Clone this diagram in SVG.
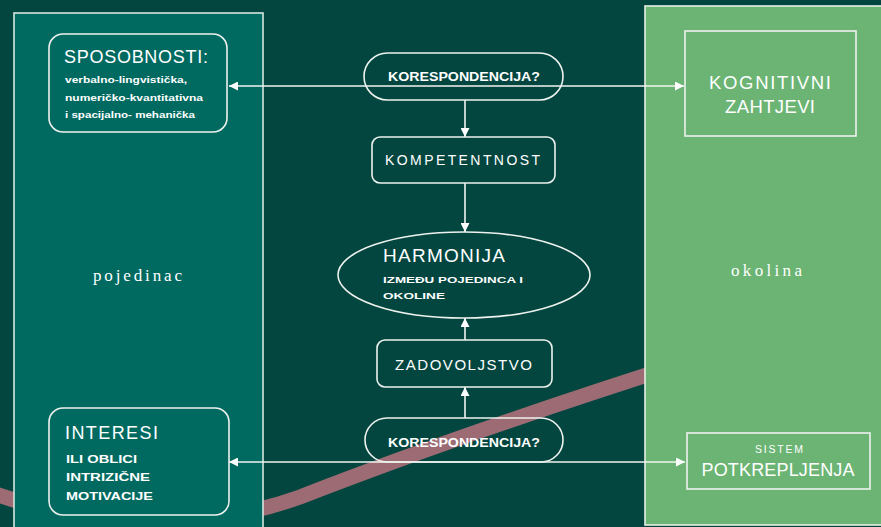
<svg xmlns="http://www.w3.org/2000/svg" width="881" height="527" viewBox="0 0 881 527">
<defs>
<style>
.ln{stroke:#f2f4f2;stroke-width:1.6;fill:none}
.bx{stroke:#eef2ee;stroke-width:1.6;fill:none}
.t{font-family:"Liberation Sans",Arial,sans-serif;fill:#ffffff}
.b{font-weight:bold}
.sr{font-family:"Liberation Serif","Times New Roman",serif;fill:#ffffff}
</style>
<marker id="ah" viewBox="0 0 10 10" refX="10" refY="5" markerWidth="9" markerHeight="9" markerUnits="userSpaceOnUse" orient="auto-start-reverse">
<path d="M0,0 L10,5 L0,10 z" fill="#ffffff"/>
</marker>
</defs>
<rect x="0" y="0" width="881" height="527" fill="#03463f"/>
<path d="M-20 488 C60 520,180 540,300 497 C400 458,520 415,700 358" stroke="#9c6b73" stroke-width="15" fill="none"/>
<g id="pojedinac">
<rect x="14" y="13" width="249" height="530" fill="#006a61" stroke="#d6e6e0" stroke-width="1.6"/>
<text class="sr" x="93" y="281" font-size="17" textLength="89" lengthAdjust="spacing">pojedinac</text>
</g>
<g id="okolina">
<rect x="645" y="6" width="245" height="519" fill="#6bb474" stroke="#e6f2e6" stroke-width="1.6"/>
<text class="sr" x="731" y="276" font-size="17" textLength="71" lengthAdjust="spacing">okolina</text>
</g>
<g id="connectors">
<line class="ln" x1="229" y1="86" x2="684" y2="86" marker-start="url(#ah)" marker-end="url(#ah)"/>
<line class="ln" x1="229" y1="462" x2="685" y2="462" marker-start="url(#ah)" marker-end="url(#ah)"/>
<line class="ln" x1="465" y1="100" x2="465" y2="137" marker-end="url(#ah)"/>
<line class="ln" x1="465" y1="183" x2="465" y2="232" marker-end="url(#ah)"/>
<line class="ln" x1="465" y1="340" x2="465" y2="318" marker-end="url(#ah)"/>
<line class="ln" x1="465" y1="418" x2="465" y2="387" marker-end="url(#ah)"/>
</g>
<g id="sposobnosti">
<rect class="bx" x="49" y="34" width="178" height="98" rx="14"/>
<text class="t" x="64" y="63" font-size="18" textLength="144" lengthAdjust="spacing">SPOSOBNOSTI:</text>
<text class="t b" x="65" y="83" font-size="9.5" textLength="122" lengthAdjust="spacingAndGlyphs">verbalno-lingvistička,</text>
<text class="t b" x="65" y="101" font-size="9.5" textLength="138" lengthAdjust="spacingAndGlyphs">numeričko-kvantitativna</text>
<text class="t b" x="65" y="118" font-size="9.5" textLength="130" lengthAdjust="spacingAndGlyphs">i spacijalno- mehanička</text>
</g>
<g id="interesi">
<rect class="bx" x="49" y="408" width="180" height="107" rx="14"/>
<text class="t" x="65" y="439" font-size="18" textLength="93" lengthAdjust="spacing">INTERESI</text>
<text class="t b" x="66" y="463" font-size="10.5" textLength="71" lengthAdjust="spacingAndGlyphs">ILI OBLICI</text>
<text class="t b" x="66" y="481" font-size="10.5" textLength="84" lengthAdjust="spacingAndGlyphs">INTRIZIČNE</text>
<text class="t b" x="66" y="500" font-size="10.5" textLength="87" lengthAdjust="spacingAndGlyphs">MOTIVACIJE</text>
</g>
<g id="korespondencija1">
<rect class="bx" x="364" y="53" width="199" height="47" rx="23.5"/>
<text class="t b" x="388" y="81" font-size="12.5" textLength="152" lengthAdjust="spacingAndGlyphs">KORESPONDENCIJA?</text>
</g>
<g id="kompetentnost">
<rect class="bx" x="372" y="137" width="183" height="46" rx="8"/>
<text class="t" x="385" y="165" font-size="14" textLength="155" lengthAdjust="spacing">KOMPETENTNOST</text>
</g>
<g id="harmonija">
<ellipse class="bx" cx="464" cy="275" rx="126" ry="43"/>
<text class="t" x="383" y="262" font-size="19" textLength="122" lengthAdjust="spacing">HARMONIJA</text>
<text class="t b" x="383" y="283" font-size="9.5" textLength="140" lengthAdjust="spacingAndGlyphs">IZMEĐU POJEDINCA I</text>
<text class="t b" x="383" y="299" font-size="9.5" textLength="62" lengthAdjust="spacingAndGlyphs">OKOLINE</text>
</g>
<g id="zadovoljstvo">
<rect class="bx" x="377" y="340" width="175" height="47" rx="8"/>
<text class="t" x="395" y="370" font-size="15" textLength="137" lengthAdjust="spacing">ZADOVOLJSTVO</text>
</g>
<g id="korespondencija2">
<rect class="bx" x="365" y="418" width="198" height="44" rx="22"/>
<text class="t b" x="388" y="447" font-size="12.5" textLength="152" lengthAdjust="spacingAndGlyphs">KORESPONDENCIJA?</text>
</g>
<g id="kognitivni">
<rect class="bx" x="685" y="31" width="171" height="105"/>
<text class="t" x="770" y="89" font-size="18.5" text-anchor="middle" textLength="122" lengthAdjust="spacing">KOGNITIVNI</text>
<text class="t" x="770" y="113" font-size="18.5" text-anchor="middle" textLength="90" lengthAdjust="spacing">ZAHTJEVI</text>
</g>
<g id="sistem">
<rect class="bx" x="687" y="433" width="183" height="56"/>
<text class="t" x="779" y="453" font-size="10.5" text-anchor="middle" textLength="48" lengthAdjust="spacing">SISTEM</text>
<text class="t" x="778" y="476" font-size="18" text-anchor="middle" textLength="153" lengthAdjust="spacing">POTKREPLJENJA</text>
</g>
</svg>
